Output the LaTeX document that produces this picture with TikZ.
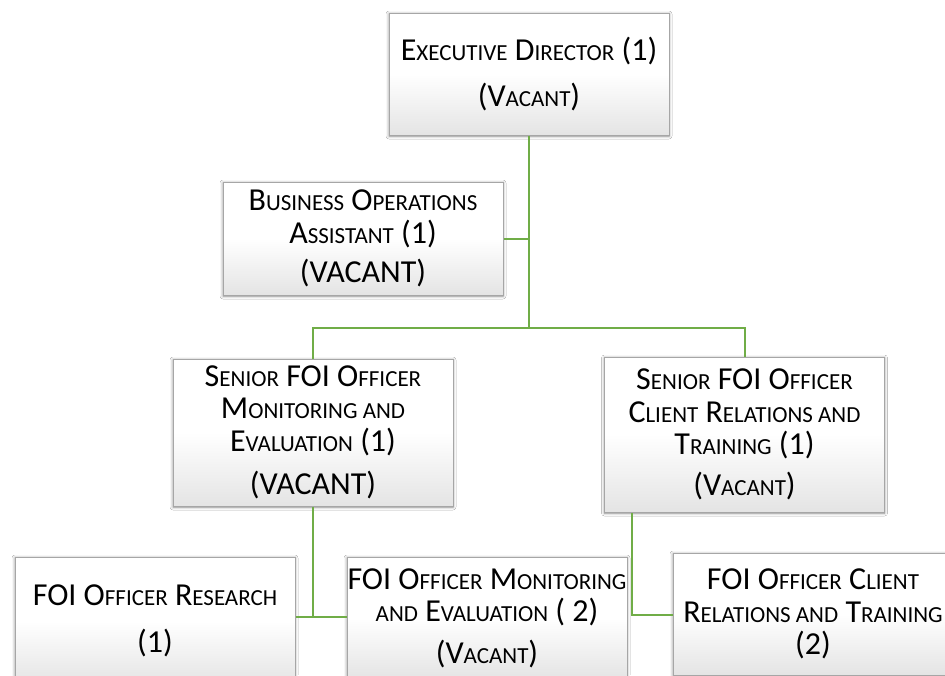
\documentclass[tikz,border=0pt]{standalone}
\usepackage{fontspec}
\setmainfont{Carlito}
\usetikzlibrary{shadows.blur}
\definecolor{conn}{HTML}{70AD47}
\definecolor{boxline}{HTML}{A6A6A6}
\definecolor{boxbot}{HTML}{E4E4E4}
\newcommand\sm[1]{{\fontsize{23}{32.5}\selectfont #1}}
\tikzset{
  orgbox/.style={rectangle, draw=boxline, line width=1pt, top color=white, bottom color=boxbot,
    middle color=white, minimum width=280pt, inner sep=0pt, align=center,
    font=\fontsize{32}{32.5}\selectfont,
    blur shadow={shadow xshift=0pt, shadow yshift=-1pt, shadow blur radius=3pt, shadow opacity=45}},
  link/.style={draw=conn, line width=2pt}
}
\begin{document}
\begin{tikzpicture}[x=1pt,y=-1pt]
\useasboundingbox (0,0) rectangle (945,675);
\clip (0,0) rectangle (945,675);
\fill[white] (0,0) rectangle (945,675);
\node[orgbox, minimum height=122pt] (exec) at (529,74) {E\sm{XECUTIVE} D\sm{IRECTOR} (1)\\[13pt] (V\sm{ACANT})};
\node[orgbox, minimum height=113pt] (biz) at (363,238.5) {B\sm{USINESS} O\sm{PERATIONS}\\ A\sm{SSISTANT} (1)\\[7pt] (VACANT)};
\node[orgbox, minimum height=147pt] (smon) at (313,432.5) {S\sm{ENIOR} FOI O\sm{FFICER}\\ M\sm{ONITORING AND}\\ E\sm{VALUATION} (1)\\[11pt] (VACANT)};
\node[orgbox, minimum height=155pt] (scli) at (744.5,434.5) {S\sm{ENIOR} FOI O\sm{FFICER}\\ C\sm{LIENT} R\sm{ELATIONS AND}\\ T\sm{RAINING} (1)\\[8pt] (V\sm{ACANT})};
\node[orgbox, minimum height=128pt] (res) at (155,621) {FOI O\sm{FFICER} R\sm{ESEARCH}\\[14pt] (1)};
\node[orgbox, minimum height=122pt] (fmon) at (487,618) {FOI O\sm{FFICER} M\sm{ONITORING}\\ \sm{AND} E\sm{VALUATION} ( 2)\\[9pt] (V\sm{ACANT})};
\node[orgbox, minimum height=122pt] (fcli) at (813,614) {FOI O\sm{FFICER} C\sm{LIENT}\\ R\sm{ELATIONS AND} T\sm{RAINING}\\ (2)};
\coordinate (bus) at (529,328);
\coordinate (j1) at (313,617);
\coordinate (j2) at (632,615);
\draw[link] (exec.south) -- (bus);
\draw[link] (biz.east) -- (biz.east -| exec.south);
\draw[link] (smon.north) |- (bus) -| (scli.north);
\draw[link] (smon.south) -- (j1);
\draw[link] (res.east |- j1) -- (fmon.west |- j1);
\draw[link] (scli.south -| j2) -- (j2) -- (fcli.west |- j2);
\end{tikzpicture}
\end{document}
